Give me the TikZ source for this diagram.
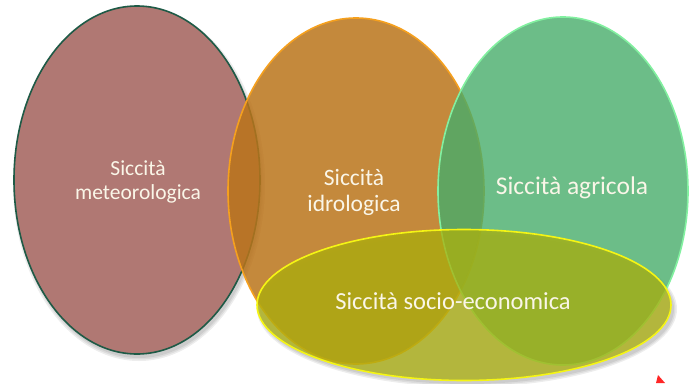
\documentclass[tikz,border=0pt]{standalone}
\usepackage{fontspec}
\setmainfont{Carlito}
\usetikzlibrary{shapes.geometric}
\definecolor{redfill}{RGB}{176,120,115}
\definecolor{redline}{RGB}{30,90,70}
\definecolor{orfill}{RGB}{186,116,26}
\definecolor{orline}{RGB}{245,160,30}
\definecolor{grfill}{RGB}{71,172,106}
\definecolor{grline}{RGB}{130,240,160}
\definecolor{yefill}{RGB}{171,176,13}
\definecolor{yeline}{RGB}{245,245,20}
\definecolor{txt}{RGB}{250,246,232}
\tikzset{
  set/.style={ellipse, inner sep=0pt, line width=1.6pt},
  shad/.style={fill=black, opacity=0.07},
  lbl/.style={text=txt, align=center, inner sep=0pt}
}
\begin{document}
\begin{tikzpicture}[x=1pt,y=-1pt]
\useasboundingbox (0,0) rectangle (691,383);
% soft shadows
\foreach \s in {0,1.5,3}{
  \fill[shad] (139,184) ellipse [x radius=123+\s, y radius=174+\s];
  \fill[shad] (467,309) ellipse [x radius=207+\s, y radius=75+\s];
}
\node[set, draw=redline, fill=redfill, minimum width=246pt, minimum height=348pt] (met) at (137,180) {};
\node[set, draw=orline, fill=orfill, fill opacity=0.85, minimum width=256pt, minimum height=346pt] (idr) at (356,191) {};
\node[set, draw=grline, fill=grfill, fill opacity=0.8, minimum width=250pt, minimum height=348pt] (agr) at (563,191) {};
\node[set, draw=yeline, fill=yefill, fill opacity=0.75, minimum width=414pt, minimum height=151pt] (soc) at (464,305) {};
\node[lbl, font=\fontsize{21.5}{24}\selectfont] (tmet) at (138,182) {Siccità\\meteorologica};
\node[lbl, font=\fontsize{23.5}{26}\selectfont] (tidr) at (354,192) {Siccità\\idrologica};
\node[lbl, font=\fontsize{25.5}{30}\selectfont] (tagr) at (572,188) {Siccità agricola};
\node[lbl, font=\fontsize{24.5}{29}\selectfont] (tsoc) at (453,301) {Siccità socio-economica};
\fill[red!85!white] (656,383) -- (658,375) -- (665,383) -- cycle;
\end{tikzpicture}
\end{document}
